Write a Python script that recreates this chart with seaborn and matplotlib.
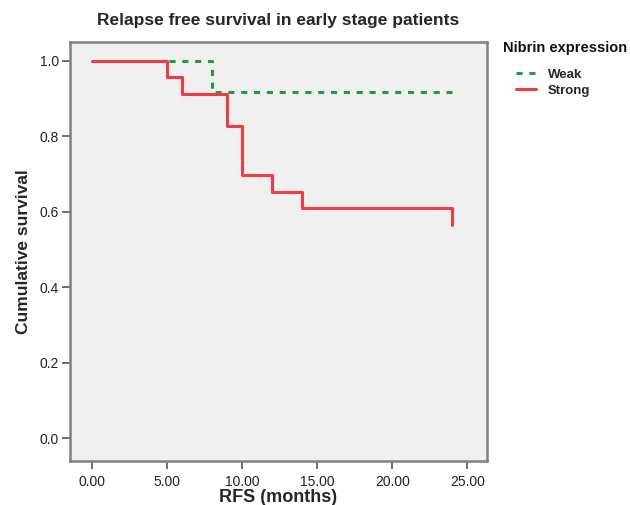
import numpy as np
import pandas as pd
import seaborn as sns
import matplotlib
matplotlib.use("Agg")
import matplotlib.pyplot as plt

# step points of the Kaplan-Meier curves
weak_time = [0, 8, 24]
weak_surv = [1.0, 0.917, 0.917]
strong_time = [0, 5, 6, 9, 10, 12, 14, 24, 24]
strong_surv = [1.0, 0.957, 0.913, 0.826, 0.696, 0.652, 0.609, 0.609, 0.565]
groups = ["Weak", "Strong"]
x_ticks = [0, 5, 10, 15, 20, 25]
y_ticks = [0.0, 0.2, 0.4, 0.6, 0.8, 1.0]

df = pd.concat([
    pd.DataFrame({"time": weak_time, "surv": weak_surv, "group": "Weak"}),
    pd.DataFrame({"time": strong_time, "surv": strong_surv, "group": "Strong"}),
], ignore_index=True)

sns.set_style("white")
plt.rcParams["font.family"] = ["Liberation Sans", "DejaVu Sans"]

fig = plt.figure(figsize=(6.3, 5.05), dpi=100)
ax = fig.add_axes([0.111, 0.087, 0.662, 0.83])
ax.set_facecolor("#f0f0f0")

colors = {"Weak": "#1e9a4a", "Strong": "#f23a44"}
styles = {"Weak": (0, (2, 2.2)), "Strong": "-"}
for g in groups:
    sub = df[df["group"] == g]
    sns.lineplot(data=sub, x="time", y="surv", ax=ax, color=colors[g],
                 linestyle=styles[g], linewidth=2.2, drawstyle="steps-post",
                 estimator=None, sort=False, label=g)

ax.set_xlim(-1.47, 26.3)
ax.set_ylim(-0.061, 1.05)
ax.set_xticks(x_ticks)
ax.set_xticklabels([f"{t:.2f}" for t in x_ticks])
ax.set_yticks(y_ticks)
ax.set_yticklabels([f"{t:.1f}" for t in y_ticks])
ax.tick_params(axis="both", direction="out", length=6, width=1.2,
               color="#555555", labelsize=10, labelcolor="#222222",
               bottom=True, left=True)
ax.tick_params(axis="x", pad=4)
ax.tick_params(axis="y", pad=2)
for s in ax.spines.values():
    s.set_color("#808080")
    s.set_linewidth(1.8)

ax.set_xlabel("RFS (months)", fontsize=13, fontweight="bold", labelpad=0)
ax.set_ylabel("Cumulative survival", fontsize=12.5, fontweight="bold", labelpad=6)
ax.set_title("Relapse free survival in early stage patients", fontsize=12.5,
             fontweight="bold", pad=12)

# legend title sits left of the indented entries, as in SPSS output
fig.text(503 / 630, 1 - 48 / 505, "Nibrin expression", fontsize=10.5,
         fontweight="bold", va="center", ha="left", color="#111111")
leg = ax.legend(loc="upper left", bbox_to_anchor=(511 / 630, 1 - 63 / 505),
                bbox_transform=fig.transFigure, frameon=False, fontsize=9.5,
                handlelength=1.5, handletextpad=0.9, borderaxespad=0,
                labelspacing=0.3)
for t in leg.get_texts():
    t.set_fontweight("bold")

fig.savefig("out.png", dpi=100)
